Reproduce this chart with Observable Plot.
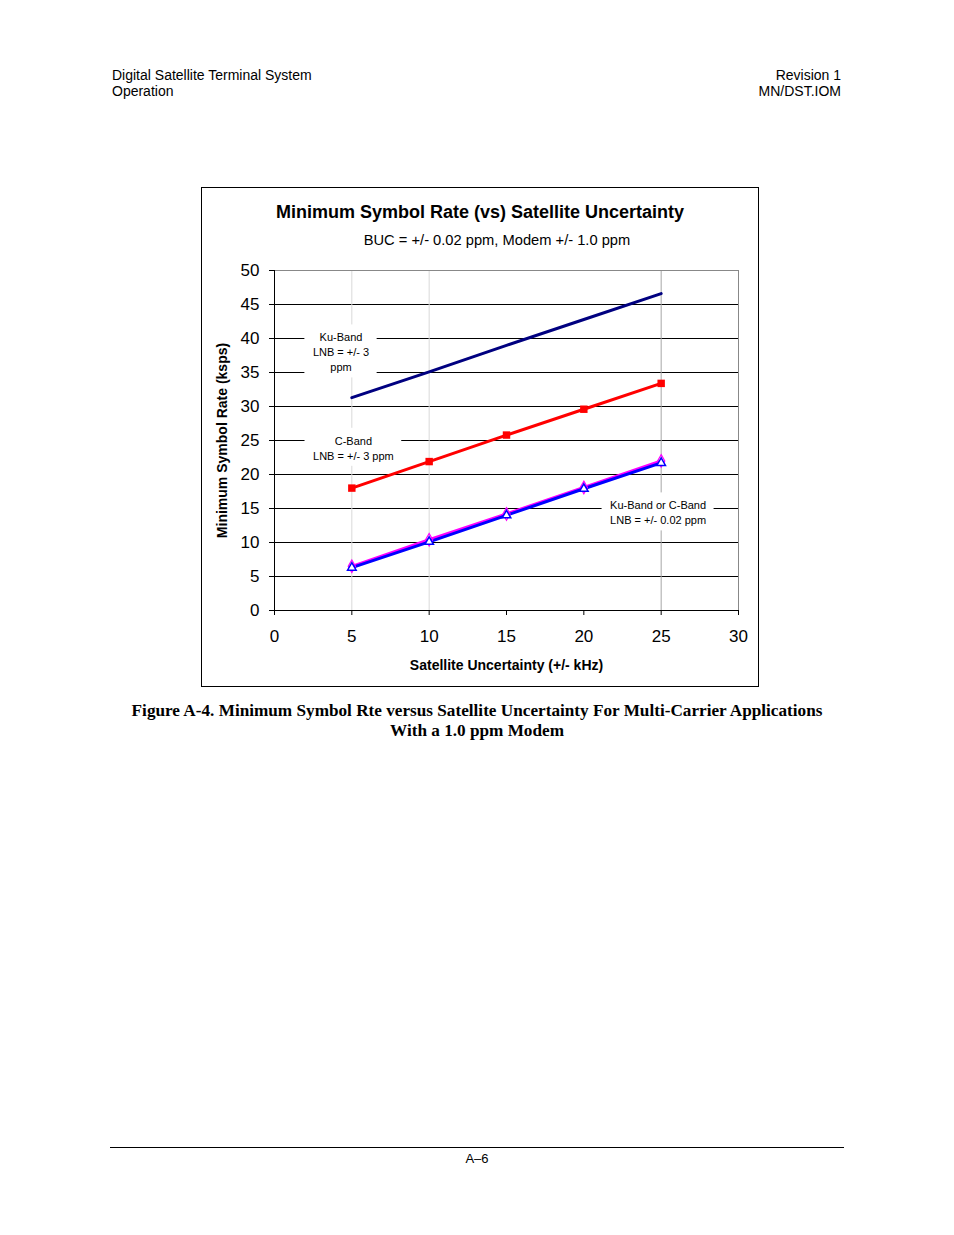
<!DOCTYPE html>
<html><head><meta charset="utf-8">
<script src="https://cdn.jsdelivr.net/npm/d3@7"></script>
<script src="https://cdn.jsdelivr.net/npm/@observablehq/plot@0.6"></script>
<style>
body{margin:0;background:#fff;font-family:"Liberation Sans",Arial,sans-serif;color:#000;}
.page{position:relative;width:954px;height:1235px;overflow:hidden;}
.abs{position:absolute;}
</style></head><body>
<div class="page">
  <div class="abs" style="left:112px;top:67px;font-size:14px;line-height:16px;">Digital Satellite Terminal System<br>Operation</div>
  <div class="abs" style="right:113px;top:67px;font-size:14px;line-height:16px;text-align:right;">Revision 1<br>MN/DST.IOM</div>
  <div class="abs" id="box" style="left:201px;top:187px;width:556px;height:498px;border:1px solid #000;">
    <div class="abs" id="title" style="left:0;top:14px;width:556px;text-align:center;font-size:18px;line-height:20px;font-weight:bold;"></div>
    <div class="abs" id="subtitle" style="left:17px;top:44px;width:556px;text-align:center;font-size:14.7px;line-height:16px;"></div>
    <div class="abs" id="chart" style="left:0;top:67px;"></div>
  </div>
  <div class="abs" id="caption" style="left:0;top:701px;width:954px;text-align:center;font-family:'Liberation Serif','Times New Roman',serif;font-weight:bold;font-size:17.2px;line-height:20px;"></div>
  <div class="abs" style="left:110px;top:1147px;width:734px;height:0;border-top:1px solid #000;"></div>
  <div class="abs" style="left:0;top:1151px;width:954px;text-align:center;font-size:13px;">A–6</div>
</div>
<script>
// ---- data ----
const titleText = "Minimum Symbol Rate (vs) Satellite Uncertainty";
const subtitleText = "BUC = +/- 0.02 ppm, Modem +/- 1.0 ppm";
const captionLines = ["Figure A-4. Minimum Symbol Rte versus Satellite Uncertainty For Multi-Carrier Applications", "With a 1.0 ppm Modem"];
const xLabel = "Satellite Uncertainty (+/- kHz)";
const yLabel = "Minimum Symbol Rate (ksps)";
const xTicks = [0, 5, 10, 15, 20, 25, 30];
const yTicks = [0, 5, 10, 15, 20, 25, 30, 35, 40, 45, 50];
const uncertainty = [5, 10, 15, 20, 25];
const kuBand3ppm = [31.3, 35.1, 39.0, 42.8, 46.6];
const cBand3ppm = [18.0, 21.9, 25.8, 29.6, 33.4];
const lnb002a = [6.5, 10.4, 14.2, 18.1, 22.0];
const lnb002b = [6.3, 10.1, 14.0, 17.9, 21.7];
const annotations = [
  {x: 4.3, y: 38.1, text: "Ku-Band\nLNB = +/- 3\nppm"},
  {x: 5.1, y: 24.0, text: "C-Band\nLNB = +/- 3 ppm"},
  {x: 24.8, y: 14.5, text: "Ku-Band or C-Band\nLNB = +/- 0.02 ppm"}
];

document.getElementById("title").textContent = titleText;
document.getElementById("subtitle").textContent = subtitleText;
document.getElementById("caption").innerHTML = captionLines.join("<br>");

const toRows = (vals) => uncertainty.map((x, i) => ({x, y: vals[i]}));
const ku = toRows(kuBand3ppm), cb = toRows(cBand3ppm), la = toRows(lnb002a), lb = toRows(lnb002b);

const chart = Plot.plot({
  width: 556, height: 430,
  marginLeft: 72, marginRight: 20, marginTop: 15, marginBottom: 75,
  style: {fontFamily: "'Liberation Sans', Arial, sans-serif", fontSize: "17px", color: "#000", background: "transparent"},
  x: {domain: [0, 30]},
  y: {domain: [0, 50]},
  marks: [
    Plot.ruleY(yTicks.filter(d => d > 0 && d < 50), {stroke: "#000", strokeWidth: 1}),
    Plot.ruleX([5, 10], {stroke: "#d9d9d9", strokeWidth: 1}),
    Plot.ruleX([25], {stroke: "#a6a6a6", strokeWidth: 1}),
    Plot.ruleY([50], {stroke: "#888", strokeWidth: 1}),
    Plot.ruleX([30], {stroke: "#888", strokeWidth: 1}),
    Plot.text(annotations, {x: "x", y: "y", text: "text", fontSize: 11, lineHeight: 1.36, fill: "#000", ariaLabel: "annotation"}),
    Plot.ruleX([0], {stroke: "#000"}),
    Plot.ruleY([0], {stroke: "#000"}),
    Plot.axisX({ticks: xTicks, tickSize: 5, tickPadding: 14, fontSize: 17, label: null}),
    Plot.axisY({ticks: yTicks, tickSize: 5, tickPadding: 10, fontSize: 17, label: null}),
    Plot.line(ku, {x: "x", y: "y", stroke: "#000080", strokeWidth: 3}),
    Plot.line(cb, {x: "x", y: "y", stroke: "#ff0000", strokeWidth: 3}),
    Plot.dot(cb, {x: "x", y: "y", symbol: "square", fill: "#ff0000", r: 4.2}),
    Plot.line(la, {x: "x", y: "y", stroke: "#ff00ff", strokeWidth: 3}),
    Plot.line(lb, {x: "x", y: "y", stroke: "#0000ff", strokeWidth: 3}),
    Plot.dot(la, {x: "x", y: "y", symbol: "diamond", fill: "none", stroke: "#ff00ff", strokeWidth: 1.2, r: 3.8}),
    Plot.dot(lb, {x: "x", y: "y", symbol: "triangle", fill: "#fff", stroke: "#0000ff", strokeWidth: 1.5, r: 3.2}),
    Plot.text([xLabel], {frameAnchor: "bottom", dy: 59, fontSize: 14, fontWeight: "bold"}),
    Plot.text([yLabel], {frameAnchor: "left", dx: -52, rotate: -90, textAnchor: "middle", fontSize: 14, fontWeight: "bold"})
  ]
});
document.getElementById("chart").appendChild(chart);

// white boxes behind annotation texts (computed from scales + measured text)
const sx = chart.scale("x"), sy = chart.scale("y");
const ctx = document.createElement("canvas").getContext("2d");
ctx.font = "11px 'Liberation Sans', Arial, sans-serif";
const found = chart.querySelector('[aria-label="annotation"]');
let annG = null;
if (found) annG = found.tagName.toLowerCase() === "g" ? found : found.closest("g");
const boxG = document.createElementNS("http://www.w3.org/2000/svg", "g");
annotations.forEach(a => {
  const lines = a.text.split("\n");
  const w = Math.max(...lines.map(l => ctx.measureText(l).width)) + 16;
  const h = lines.length * 15 + 8;
  const cx = sx.apply(a.x), cy = sy.apply(a.y);
  const r = document.createElementNS("http://www.w3.org/2000/svg", "rect");
  r.setAttribute("x", cx - w / 2);
  r.setAttribute("y", cy - h / 2);
  r.setAttribute("width", w);
  r.setAttribute("height", h);
  r.setAttribute("fill", "#fff");
  boxG.appendChild(r);
});
if (annG && annG.parentNode) annG.parentNode.insertBefore(boxG, annG);
else {
  // fall back: place boxes just after the grid rules (before the 6th mark group)
  const groups = Array.from(chart.children).filter(n => n.tagName.toLowerCase() === "g");
  chart.insertBefore(boxG, groups[5] || null);
}
</script>
</body></html>
